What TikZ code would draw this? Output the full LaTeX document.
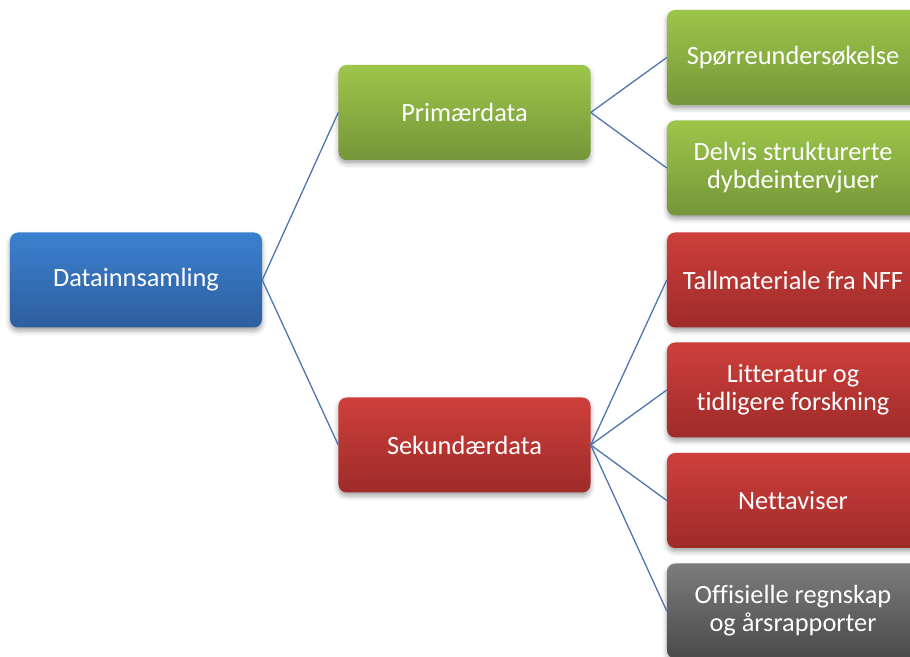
\documentclass[tikz,border=0pt]{standalone}
\usepackage{fontspec}
\setmainfont[Ligatures=NoCommon]{Carlito}
\usetikzlibrary{shadows.blur}
\definecolor{rootblue}{RGB}{59,129,207}
\definecolor{rootbluedark}{RGB}{46,94,158}
\definecolor{primgreen}{RGB}{157,198,74}
\definecolor{primgreendark}{RGB}{117,150,57}
\definecolor{sekred}{RGB}{206,63,59}
\definecolor{sekreddark}{RGB}{158,43,41}
\definecolor{offgray}{RGB}{124,124,124}
\definecolor{offgraydark}{RGB}{74,74,74}
\definecolor{linkblue}{RGB}{74,117,176}
\tikzset{
  link/.style={draw=linkblue,line width=1.1pt},
  box/.style={rounded corners=7pt,minimum width=7.56cm,minimum height=2.85cm,
              inner sep=2pt,align=center,text=white,
              font=\fontsize{22.5}{24}\selectfont,
              blur shadow={shadow xshift=0pt,shadow yshift=-3pt,
                           shadow blur radius=4pt,shadow opacity=35}},
  rootbox/.style={box,top color=rootblue,bottom color=rootbluedark},
  primbox/.style={box,top color=primgreen,bottom color=primgreendark},
  sekbox/.style={box,top color=sekred,bottom color=sekreddark},
  offbox/.style={box,top color=offgray,bottom color=offgraydark},
}

\begin{document}
\begin{tikzpicture}[x=0.03cm,y=-0.03cm]
  \path[use as bounding box] (0,0) rectangle (910,657);

  \node[rootbox] (samling) at (136,280) {Datainnsamling};

  \node[primbox] (primaer) at (464.5,112.5) {Primærdata};
  \node[sekbox]  (sekundaer) at (464.5,445) {Sekundærdata};

  \node[primbox] (sporre) at (793,57.5) {Spørreundersøkelse};
  \node[primbox] (dybde) at (793,168) {Delvis strukturerte\\dybdeintervjuer};

  \node[sekbox] (tall) at (793,280) {Tallmateriale fra NFF};
  \node[sekbox] (litt) at (793,390) {Litteratur og\\tidligere forskning};
  \node[sekbox] (nett) at (793,500.5) {Nettaviser};
  \node[offbox] (regnskap) at (793,611) {Offisielle regnskap\\og årsrapporter};

  \draw[link] (samling.east) -- (primaer.west);
  \draw[link] (samling.east) -- (sekundaer.west);
  \foreach \child in {sporre,dybde}
    \draw[link] (primaer.east) -- (\child.west);
  \foreach \child in {tall,litt,nett,regnskap}
    \draw[link] (sekundaer.east) -- (\child.west);
\end{tikzpicture}
\end{document}
